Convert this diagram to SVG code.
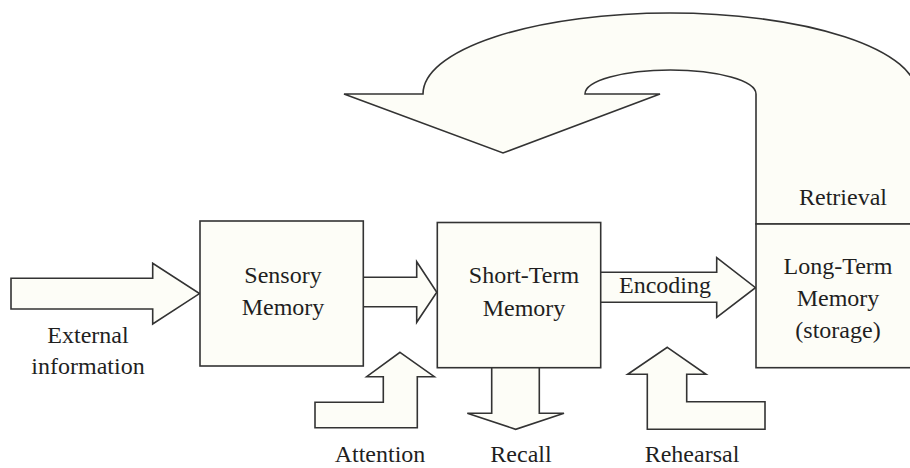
<svg xmlns="http://www.w3.org/2000/svg" width="910" height="468" viewBox="0 0 910 468">
  <style>
    .shape { fill: #fdfdf7; stroke: #333333; stroke-width: 1.6; stroke-linejoin: miter; }
    .label { font-family: "Liberation Serif", "Times New Roman", serif; font-size: 24px; fill: #1f1f1f; text-anchor: middle; }
  </style>
  <rect x="0" y="0" width="910" height="468" fill="#ffffff"/>

  <!-- connectors: block arrows -->
  <g id="connectors">
    <!-- retrieval loop: from long-term memory back over the top -->
    <path id="retrieval-arrow" class="shape" d="M344,94 L423,94 A247,81 0 0 1 917,94 L917,224 L756,224 L756,94 A85.5,24 0 0 0 585,94 L660,94 L503,153 Z"/>
    <!-- external information into sensory memory -->
    <path id="external-arrow" class="shape" d="M11,278.3 L152.7,278.3 L152.7,263.3 L199.5,293.6 L152.7,324 L152.7,309 L11,309 Z"/>
    <!-- sensory to short-term -->
    <path id="sensory-stm-arrow" class="shape" d="M363.3,277.3 L416.7,277.3 L416.7,261.7 L436.8,292.3 L416.7,322.3 L416.7,306.7 L363.3,306.7"/>
    <!-- encoding: short-term to long-term -->
    <path id="encoding-arrow" class="shape" d="M600.7,272.3 L716.7,272.3 L716.7,257.7 L755.5,287.7 L716.7,317.3 L716.7,302.3 L600.7,302.3"/>
    <!-- attention -->
    <path id="attention-arrow" class="shape" d="M400,352.3 L434.3,376.7 L417.3,376.7 L417.3,427.7 L315,427.7 L315,402.3 L383.3,402.3 L383.3,376.7 L366.7,376.7 Z"/>
    <!-- recall -->
    <path id="recall-arrow" class="shape" d="M491.7,367.7 L491.7,413.3 L467.3,413.3 L515.7,429.3 L564,413.3 L539.3,413.3 L539.3,367.7"/>
    <!-- rehearsal -->
    <path id="rehearsal-arrow" class="shape" d="M667.3,347.3 L706,374.3 L686.7,374.3 L686.7,401.7 L765,401.7 L765,429.3 L647.3,429.3 L647.3,374.3 L627.7,374.3 Z"/>
  </g>

  <g id="sensory-memory">
    <rect class="shape" x="200" y="221" width="163.3" height="145"/>
    <text class="label" x="283" y="283">Sensory</text>
    <text class="label" x="283" y="315">Memory</text>
  </g>

  <g id="short-term-memory">
    <rect class="shape" x="437.3" y="222.5" width="163.4" height="145.2"/>
    <text class="label" x="524" y="283">Short-Term</text>
    <text class="label" x="524" y="316">Memory</text>
  </g>

  <g id="long-term-memory">
    <rect class="shape" x="756" y="224" width="164" height="143.7"/>
    <text class="label" x="838" y="274">Long-Term</text>
    <text class="label" x="838" y="306">Memory</text>
    <text class="label" x="838" y="338">(storage)</text>
  </g>

  <g id="labels">
    <text class="label" x="88" y="343">External</text>
    <text class="label" x="88" y="374">information</text>
    <text class="label" x="665" y="293">Encoding</text>
    <text class="label" x="843" y="205">Retrieval</text>
    <text class="label" x="380" y="462">Attention</text>
    <text class="label" x="521" y="462">Recall</text>
    <text class="label" x="692" y="462">Rehearsal</text>
  </g>
</svg>
